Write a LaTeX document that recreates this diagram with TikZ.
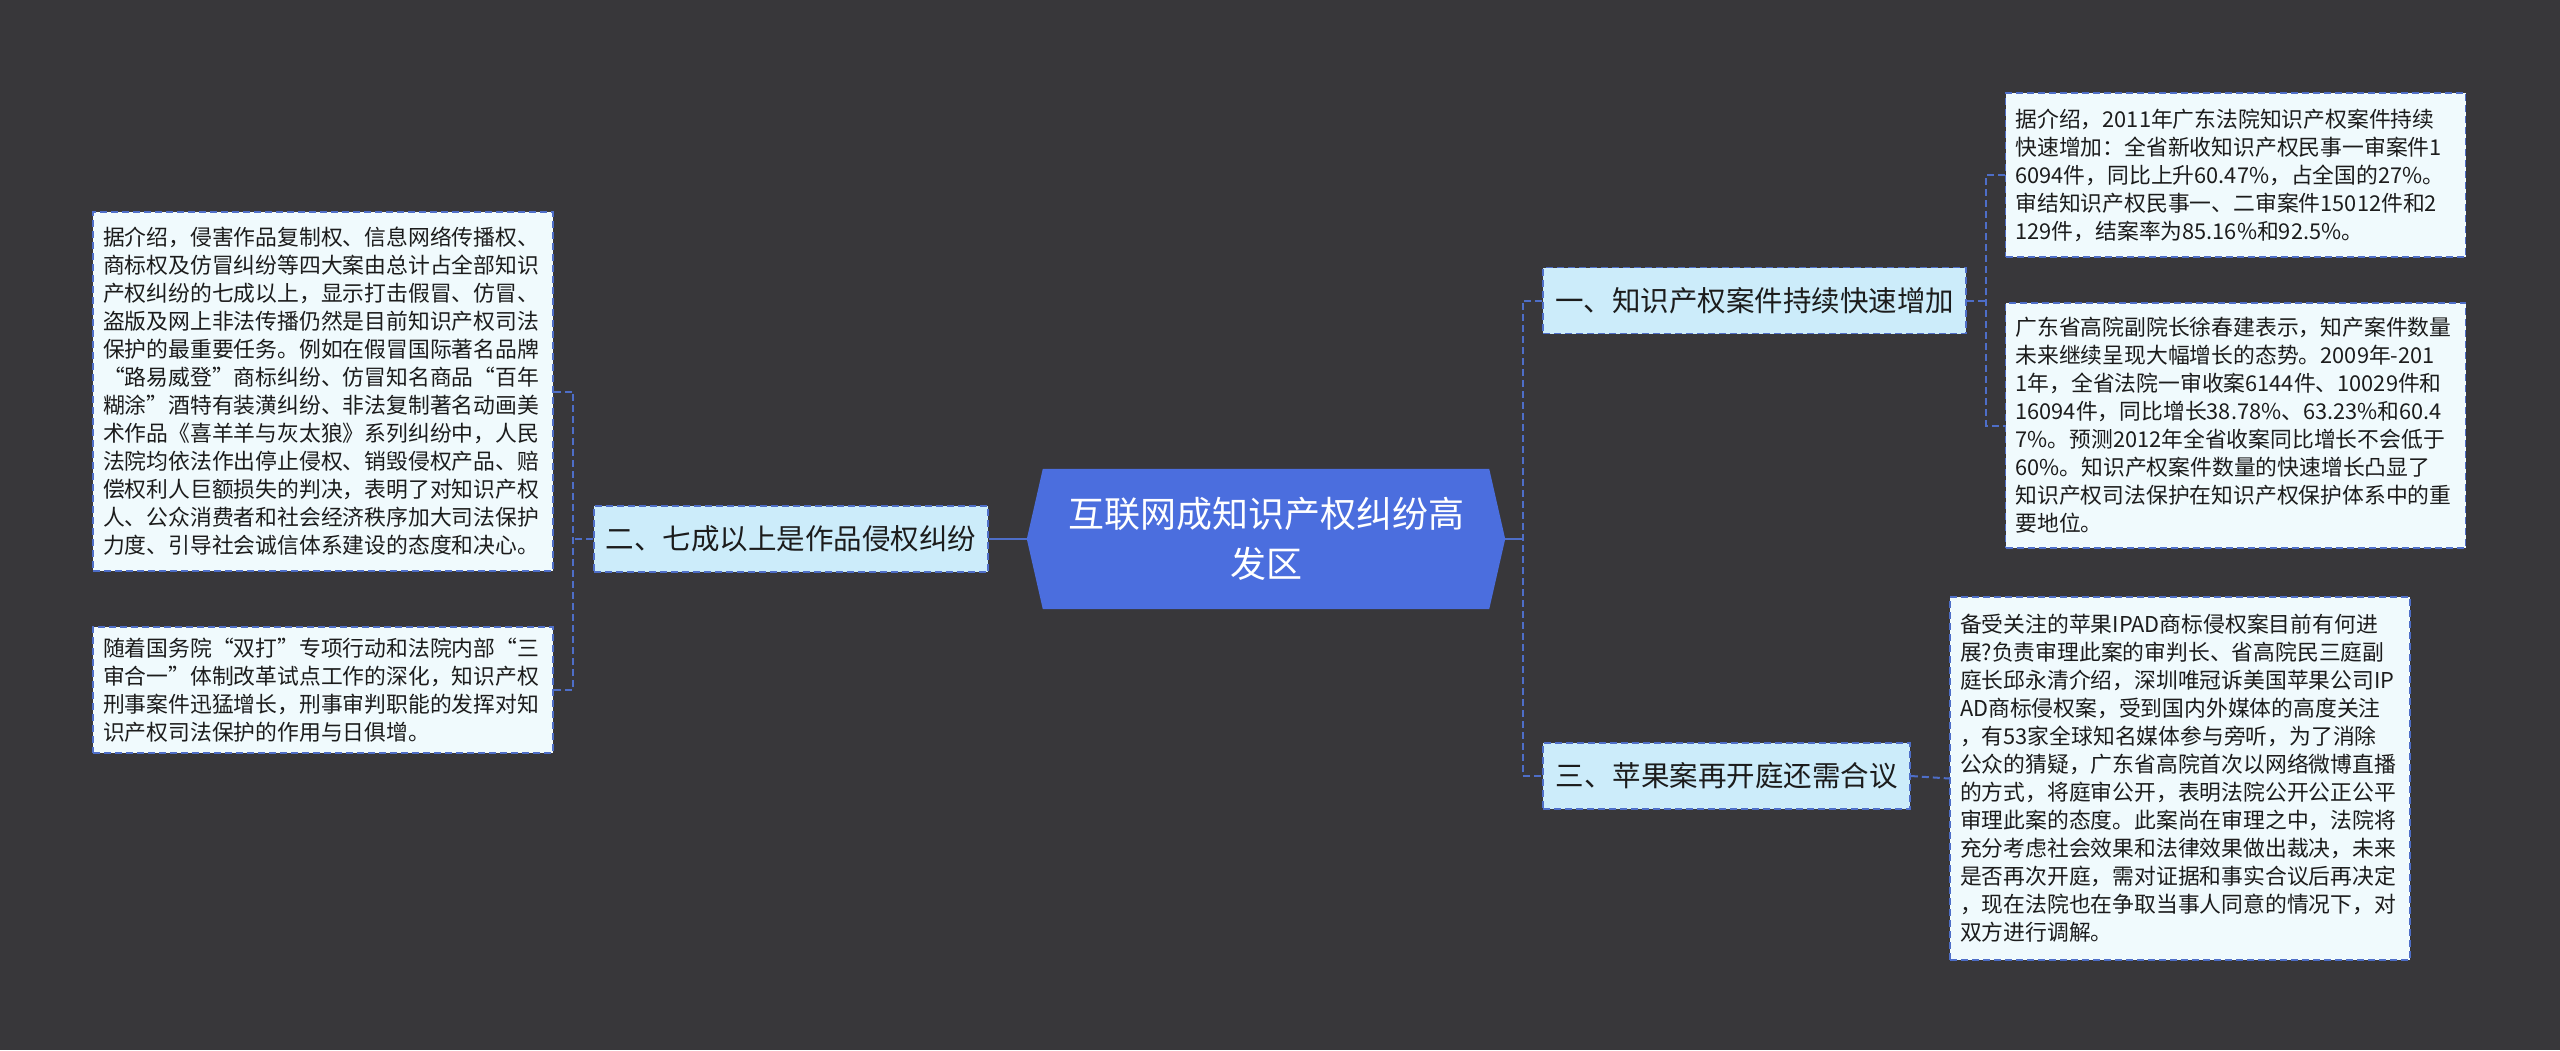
\documentclass[tikz,border=0pt]{standalone}
\usepackage{fontspec}
\newfontfamily\cjk{Noto Sans CJK SC}
\usetikzlibrary{calc}
\pgfdeclarelayer{bglayer}
\pgfdeclarelayer{midlayer}
\pgfsetlayers{bglayer,midlayer,main}
\definecolor{bgc}{HTML}{38373A}
\definecolor{cfill}{HTML}{4B6EDE}
\definecolor{bfill}{HTML}{CCECFA}
\definecolor{lfill}{HTML}{F0FAFD}
\definecolor{lnc}{HTML}{4E6EC8}
\definecolor{txt}{HTML}{1C1C1C}
\begin{document}
\begin{tikzpicture}[x=1pt,y=-1pt,
  centerbox/.style={minimum width=478pt,minimum height=140pt,inner sep=0pt,
    align=center,text=white,font=\cjk\fontsize{36}{50}\selectfont},
  branchbox/.style={draw=lnc,line width=1.6pt,dash pattern=on 7pt off 4pt,fill=bfill,
    inner xsep=12pt,inner ysep=0pt,minimum height=66pt,text=txt,
    font=\cjk\fontsize{28.5}{34}\selectfont},
  leafbox/.style={draw=lnc,line width=1.6pt,dash pattern=on 7pt off 4pt,fill=lfill,
    text width=440pt,inner xsep=10pt,inner ysep=0pt,align=left,text=txt,
    font=\cjk\fontsize{21.8}{28}\selectfont},
  conn/.style={draw=lnc,line width=2pt,dash pattern=on 7pt off 4pt},
  solidconn/.style={draw=lnc,line width=2pt}]
\useasboundingbox (0,0) rectangle (2560,1050);
\begin{pgfonlayer}{bglayer}
\fill[bgc] (0,0) rectangle (2560,1050);
\end{pgfonlayer}

% center
\node[centerbox] (c) at (1266,539) {互联网成知识产权纠纷高\\发区};
\begin{pgfonlayer}{midlayer}
\fill[cfill] (c.west) -- ($(c.north west)+(16,0)$) -- ($(c.north east)+(-16,0)$)
  -- (c.east) -- ($(c.south east)+(-16,0)$) -- ($(c.south west)+(16,0)$) -- cycle;
\end{pgfonlayer}

% branches
\node[branchbox,minimum width=394pt] (b2) at (791,539) {二、七成以上是作品侵权纠纷};
\node[branchbox,minimum width=423pt] (b1) at (1754.5,300.5) {一、知识产权案件持续快速增加};
\node[branchbox,minimum width=367pt] (b3) at (1726.5,776) {三、苹果案再开庭还需合议};

% leaves left
\node[leafbox,minimum height=359pt] (l1) at (323,391.5) {据介绍，侵害作品复制权、信息网络传播权、\\商标权及仿冒纠纷等四大案由总计占全部知识\\产权纠纷的七成以上，显示打击假冒、仿冒、\\盗版及网上非法传播仍然是目前知识产权司法\\保护的最重要任务。例如在假冒国际著名品牌\\“路易威登”商标纠纷、仿冒知名商品“百年\\糊涂”酒特有装潢纠纷、非法复制著名动画美\\术作品《喜羊羊与灰太狼》系列纠纷中，人民\\法院均依法作出停止侵权、销毁侵权产品、赔\\偿权利人巨额损失的判决，表明了对知识产权\\人、公众消费者和社会经济秩序加大司法保护\\力度、引导社会诚信体系建设的态度和决心。};
\node[leafbox,minimum height=126pt] (l2) at (323,690) {随着国务院“双打”专项行动和法院内部“三\\审合一”体制改革试点工作的深化，知识产权\\刑事案件迅猛增长，刑事审判职能的发挥对知\\识产权司法保护的作用与日俱增。};

% leaves right
\node[leafbox,minimum height=164pt] (r1) at (2235.5,175) {据介绍，2011年广东法院知识产权案件持续\\快速增加：全省新收知识产权民事一审案件1\\6094件，同比上升60.47\%，占全国的27\%。\\审结知识产权民事一、二审案件15012件和2\\129件，结案率为85.16\%和92.5\%。};
\node[leafbox,minimum height=245pt] (r2) at (2235.5,425.5) {广东省高院副院长徐春建表示，知产案件数量\\未来继续呈现大幅增长的态势。2009年-201\\1年，全省法院一审收案6144件、10029件和\\16094件，同比增长38.78\%、63.23\%和60.4\\7\%。预测2012年全省收案同比增长不会低于\\60\%。知识产权案件数量的快速增长凸显了\\知识产权司法保护在知识产权保护体系中的重\\要地位。};
\node[leafbox,minimum height=363pt] (l3) at (2180,778.5) {备受关注的苹果IPAD商标侵权案目前有何进\\展?负责审理此案的审判长、省高院民三庭副\\庭长邱永清介绍，深圳唯冠诉美国苹果公司IP\\AD商标侵权案，受到国内外媒体的高度关注\\，有53家全球知名媒体参与旁听，为了消除\\公众的猜疑，广东省高院首次以网络微博直播\\的方式，将庭审公开，表明法院公开公正公平\\审理此案的态度。此案尚在审理之中，法院将\\充分考虑社会效果和法律效果做出裁决，未来\\是否再次开庭，需对证据和事实合议后再决定\\，现在法院也在争取当事人同意的情况下，对\\双方进行调解。};

% junction points
\coordinate (jl) at (573,539);
\coordinate (jr) at (1523,539);
\coordinate (jr1) at (1986,300.5);

% connectors
\begin{pgfonlayer}{midlayer}
\draw[solidconn] (c.west) -- (b2.east);
\draw[conn] (b2.west) -- (jl);
\draw[conn] (l1.east) -| (jl) |- (l2.east);
\draw[solidconn] (c.east) -- (jr);
\draw[conn] (b1.west) -| (jr) |- (b3.west);
\draw[conn] (b1.east) -- (jr1);
\draw[conn] (r1.west) -| (jr1) |- (r2.west);
\draw[conn] (b3.east) -- (l3.west);
\end{pgfonlayer}
\end{tikzpicture}
\end{document}
